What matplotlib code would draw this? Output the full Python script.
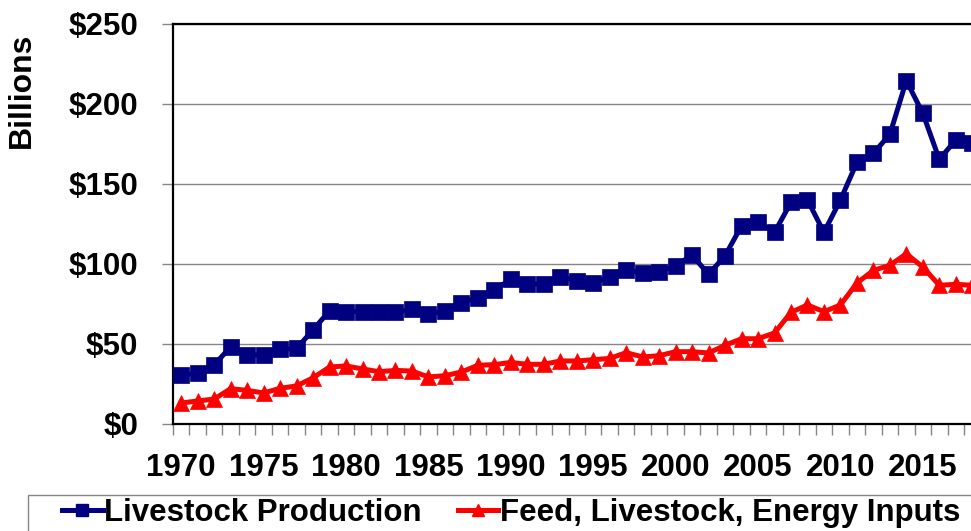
"""Livestock production value vs. feed/livestock/energy input costs, 1970-2018."""
import matplotlib
matplotlib.use("Agg")
import matplotlib.pyplot as plt
from matplotlib.lines import Line2D
from matplotlib.patches import Rectangle
from matplotlib.ticker import FuncFormatter

years = list(range(1970, 2019))

# $ billions
livestock = [30.6, 31.7, 36.9, 48.3, 43.1, 43.1, 46.7, 47.3, 58.8, 70.8,
             70.2, 70.2, 70.2, 69.8, 71.7, 68.8, 70.6, 75.8, 79.0, 83.8,
             90.4, 87.5, 87.5, 92.1, 89.6, 87.9, 92.1, 96.3, 94.2, 95.2,
             98.9, 105.6, 93.5, 105.2, 123.8, 126.0, 119.8, 138.5, 140.0, 119.8,
             140.0, 163.5, 169.2, 181.0, 214.6, 194.2, 165.4, 177.5, 175.8]
inputs = [13.1, 14.4, 15.6, 22.1, 21.0, 19.4, 22.3, 23.8, 28.9, 35.6,
          36.3, 34.4, 32.7, 33.5, 33.1, 29.4, 30.2, 32.5, 36.7, 37.1,
          38.5, 37.3, 37.3, 39.4, 39.4, 40.2, 41.0, 44.6, 41.9, 42.7,
          45.2, 45.2, 44.4, 49.2, 53.3, 53.3, 56.9, 69.8, 74.4, 70.2,
          74.4, 88.1, 96.0, 99.2, 106.4, 98.1, 86.7, 87.3, 86.7]

labels = ["Livestock Production", "Feed, Livestock, Energy Inputs"]
yticks = [0, 50, 100, 150, 200, 250]

NAVY = "#000080"
RED = "#ff0000"
GRID = "#868686"

plt.rcParams["font.family"] = ["Liberation Sans", "DejaVu Sans"]
plt.rcParams["font.weight"] = "bold"

fig = plt.figure(figsize=(9.71, 5.31), dpi=100)
W, H = 971, 531
# plot area runs past the right edge of the picture, as in the reference
ax = fig.add_axes([173 / W, 1 - 424 / H, 807.5 / W, 400 / H])

x = list(range(len(years)))
ax.plot(x, livestock, color=NAVY, lw=3.6, marker="s", ms=12,
        mec=NAVY, mew=0.5, clip_on=False, zorder=3)
ax.plot(x, inputs, color=RED, lw=3.6, marker="^", ms=11.5,
        mec=RED, mew=0.5, clip_on=False, zorder=3)

ax.set_xlim(-0.5, len(years) - 0.5)
ax.set_ylim(0, 250)

# category boundaries carry the tick marks, labels sit on every 5th year
ax.set_xticks([i - 0.5 for i in range(len(years) + 1)])
ax.set_xticklabels([])
lab_pos = [i for i, y in enumerate(years) if y % 5 == 0]
ax.set_xticks(lab_pos, minor=True)
ax.set_xticklabels([str(years[i]) for i in lab_pos], minor=True)
ax.tick_params(axis="x", which="major", length=8, width=1, color=GRID,
               direction="out")
ax.tick_params(axis="x", which="minor", length=0, pad=21, labelsize=22.5)

ax.set_yticks(yticks)
ax.yaxis.set_major_formatter(FuncFormatter(lambda v, _: f"${v:.0f}"))
ax.tick_params(axis="y", length=8, width=1, color=GRID, direction="out",
               pad=17, labelsize=22.5)

ax.grid(axis="y", color=GRID, lw=1)
ax.set_axisbelow(True)
for side in ("left", "bottom", "top"):
    ax.spines[side].set_color("black")
    ax.spines[side].set_linewidth(1.6)
ax.spines["right"].set_visible(False)

fig.text(22 / W, 1 - 90 / H, "Billions", rotation=90, ha="center",
         va="center", fontsize=23, fontweight="bold")

# legend box, cut off by the bottom and right edges like the reference
fig.patches.append(Rectangle((28 / W, -0.1), 1.1, (531 - 495) / H + 0.1,
                             transform=fig.transFigure, fill=False,
                             edgecolor=GRID, lw=1))
handles = [
    Line2D([], [], color=NAVY, lw=3.6, marker="s", ms=9, mec=NAVY),
    Line2D([], [], color=RED, lw=3.6, marker="^", ms=9, mec=RED),
]
fig.legend(handles, labels, loc="center left",
           bbox_to_anchor=(62 / W, 1 - 513 / H), ncol=2, frameon=False,
           fontsize=22.5, handlelength=1.3, handletextpad=0.05,
           columnspacing=1.15, borderpad=0, borderaxespad=0)

fig.savefig("out.png", dpi=100)
